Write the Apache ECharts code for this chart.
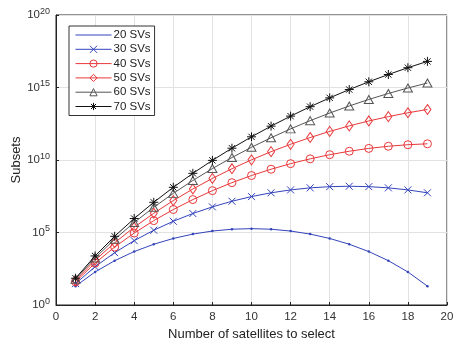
<!DOCTYPE html>
<html><head><meta charset="utf-8">
<script src="https://cdn.jsdelivr.net/npm/echarts@6/dist/echarts.min.js"></script>
<style>html,body{margin:0;padding:0;background:#fff}#c{width:453px;height:342px}</style>
</head><body><div id="c"></div>
<script>
const k = [1,2,3,4,5,6,7,8,9,10,11,12,13,14,15,16,17,18,19];
const seriesNames = ['20 SVs','30 SVs','40 SVs','50 SVs','60 SVs','70 SVs'];
const sv20 = [20,190,1140,4845,15500,38800,77500,126000,168000,185000,168000,126000,77500,38800,15500,4845,1140,190,20];
const sv30 = [30,435,4060,27400,143000,594000,2.04e6,5.85e6,1.43e7,3.00e7,5.46e7,8.65e7,1.20e8,1.45e8,1.55e8,1.45e8,1.20e8,8.65e7,5.46e7];
const sv40 = [40,780,9880,91400,658000,3.84e6,1.86e7,7.69e7,2.73e8,8.48e8,2.31e9,5.59e9,1.20e10,2.32e10,4.02e10,6.29e10,8.87e10,1.13e11,1.31e11];
const sv50 = [50,1225,19600,230000,2.12e6,1.59e7,9.99e7,5.37e8,2.51e9,1.03e10,3.74e10,1.21e11,3.55e11,9.38e11,2.25e12,4.92e12,9.85e12,1.81e13,3.04e13];
const sv60 = [60,1770,34200,488000,5.46e6,5.01e7,3.86e8,2.56e9,1.48e10,7.54e10,3.43e11,1.40e12,5.17e12,1.73e13,5.32e13,1.50e14,3.87e14,9.25e14,2.04e15];
const sv70 = [70,2415,54700,917000,1.21e7,1.31e8,1.20e9,9.44e9,6.50e10,3.97e11,2.16e12,1.06e13,4.75e13,1.93e14,7.21e14,2.48e15,7.88e15,2.32e16,6.32e16];

const dataSets = [sv20, sv30, sv40, sv50, sv60, sv70];
const colors = ['#3344bb','#3344bb','#e8383a','#e8383a','#555555','#111111'];
const symbols = [
  'circle',
  'path://M0,0L10,10M10,0L0,10',
  'circle',
  'path://M5,0L10,5L5,10L0,5Z',
  'path://M5,0L10,9L0,9Z',
  'path://M5,0L5,10M0,5L10,5M1.5,1.5L8.5,8.5M8.5,1.5L1.5,8.5'
];
const sizes = [2.5, 7, 8, [7,10], [9,8], 9];
const font = 'Liberation Sans, Arial, sans-serif';

const series = dataSets.map((d, i) => ({
  name: seriesNames[i],
  type: 'line',
  data: d.map((v, j) => [k[j], v]),
  symbol: symbols[i],
  symbolSize: sizes[i],
  showSymbol: true,
  lineStyle: { color: colors[i], width: 1 },
  itemStyle: i === 0 ? { color: colors[i] } : { color: 'rgba(255,255,255,0)', borderColor: colors[i], borderWidth: 1 },
  emphasis: { disabled: true },
  z: 2 + i,
  animation: false
}));

const legendData = seriesNames.map((n, i) => ({
  name: n,
  lineStyle: { color: colors[i], width: 1 },
  itemStyle: i === 0 ? { color: 'rgba(255,255,255,0)', borderWidth: 0 }
                     : { color: 'rgba(255,255,255,0)', borderColor: colors[i], borderWidth: 1 }
}));

const chart = echarts.init(document.getElementById('c'), null, { renderer: 'canvas' });
chart.setOption({
  animation: false,
  backgroundColor: '#fff',
  grid: { left: 56, right: 6, top: 15, bottom: 37, show: true, borderColor: '#222', borderWidth: 1, outerBoundsMode: 'none', containLabel: false },
  legend: {
    orient: 'vertical',
    left: 69, top: 26,
    itemWidth: 36, itemHeight: 9, itemGap: 2.3,
    padding: [3, 4, 3, 6],
    borderColor: '#333', borderWidth: 1,
    backgroundColor: '#fff',
    lineStyle: { width: 1 },
    textStyle: { fontFamily: font, fontSize: 11.5, lineHeight: 12, color: '#222', padding: [0,0,0,-3] },
    data: legendData
  },
  xAxis: {
    type: 'value', min: 0, max: 20, interval: 2,
    name: 'Number of satellites to select', nameLocation: 'middle', nameGap: 23, nameMoveOverlap: false,
    nameTextStyle: { fontFamily: font, fontSize: 13, color: '#222' },
    axisLine: { show: true, lineStyle: { color: '#222' } },
    axisTick: { show: true, inside: true, length: 3, lineStyle: { color: '#222' } },
    axisLabel: { fontFamily: font, fontSize: 11.5, color: '#333', margin: 6 },
    splitLine: { show: true, lineStyle: { color: '#e2e2e2' } }
  },
  yAxis: {
    type: 'log', logBase: 10, min: 1, max: 1e20, interval: 5,
    name: 'Subsets', nameLocation: 'middle', nameGap: 33, nameMoveOverlap: false,
    nameTextStyle: { fontFamily: font, fontSize: 13, color: '#222' },
    axisLine: { show: true, lineStyle: { color: '#222' } },
    axisTick: { show: true, inside: true, length: 3, lineStyle: { color: '#222' } },
    axisLabel: {
      fontFamily: font, fontSize: 11.5, color: '#333', margin: 6,
      formatter: v => '10{s|' + Math.round(Math.log10(v)) + '}',
      rich: { s: { fontSize: 9, verticalAlign: 'top', padding: [0,0,7,0], fontFamily: font, color: '#333' } }
    },
    splitLine: { show: true, lineStyle: { color: '#e2e2e2' } }
  },
  series: series
});
</script></body></html>
